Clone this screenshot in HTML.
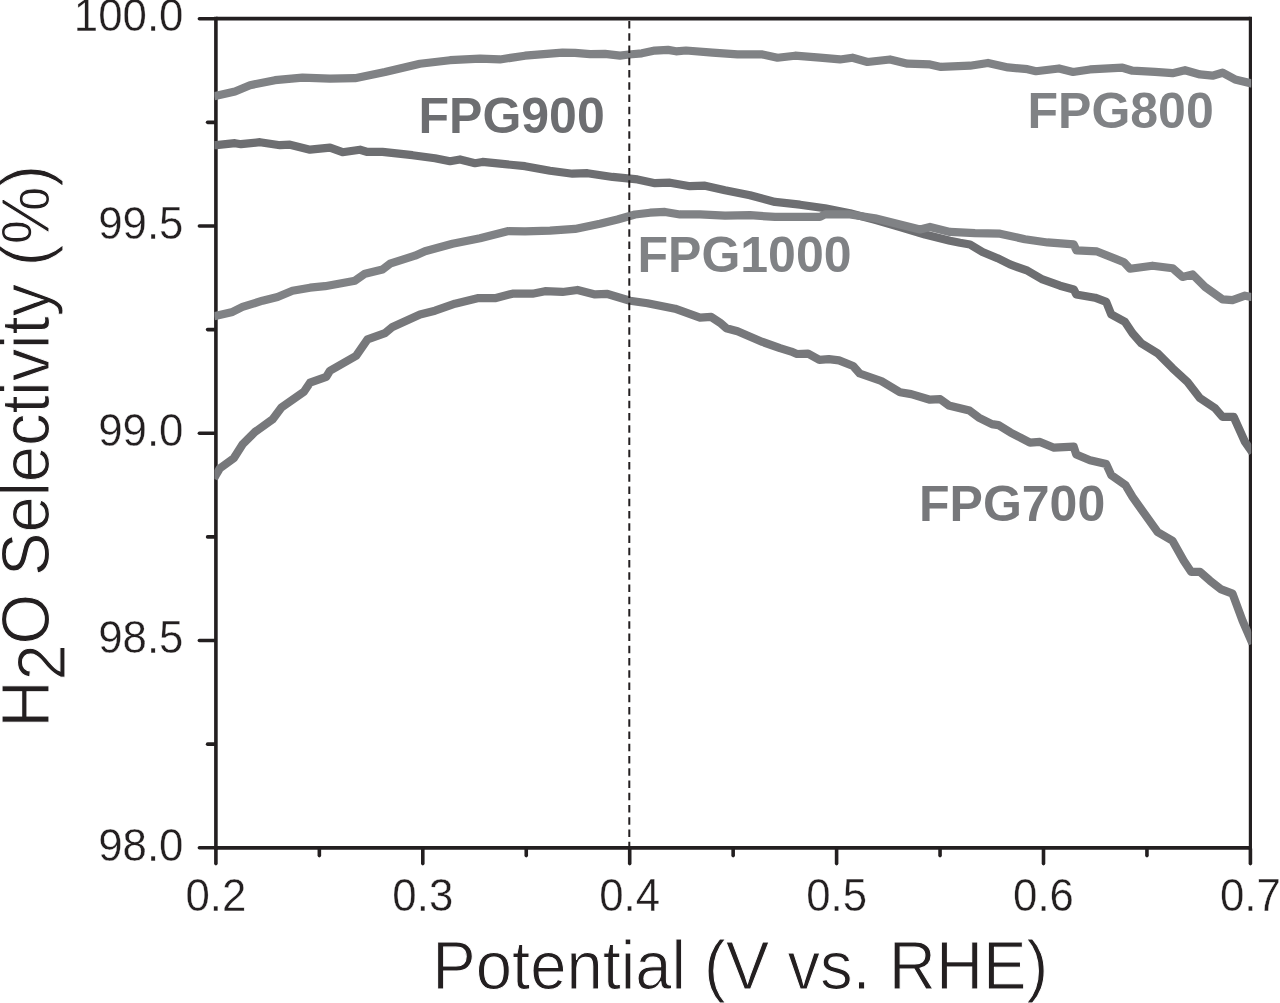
<!DOCTYPE html>
<html lang="en">
<head>
<meta charset="utf-8">
<title>H2O Selectivity vs Potential</title>
<style>
html,body{margin:0;padding:0;background:#fff;}
body{width:1280px;height:1003px;overflow:hidden;}
svg{display:block;}
text{font-family:"Liberation Sans",Arial,Helvetica,sans-serif;}
.tick{font-size:43.8px;fill:#231f20;stroke:#fff;stroke-width:0.35px;}
.title{font-size:65.2px;fill:#231f20;stroke:#fff;stroke-width:1px;}
.lab{font-size:50px;font-weight:bold;}
.ax{stroke:#231f20;stroke-width:3.6;fill:none;stroke-linecap:round;}
.cv{fill:none;stroke-width:8.2;stroke-linejoin:round;stroke-linecap:butt;}
</style>
</head>
<body>
<svg width="1280" height="1003" viewBox="0 0 1280 1003">
<rect x="0" y="0" width="1280" height="1003" fill="#ffffff"/>
<defs><clipPath id="clip"><rect x="214.4" y="18.7" width="1036.9" height="829.0999999999999"/></clipPath></defs>

<line x1="215.9" y1="16.849999999999998" x2="215.9" y2="849.6999999999999" stroke="#231f20" stroke-width="3.6"/>
<line x1="1250.4" y1="16.849999999999998" x2="1250.4" y2="849.6999999999999" stroke="#231f20" stroke-width="3.2"/>
<line x1="215.9" y1="18.7" x2="1250.4" y2="18.7" stroke="#231f20" stroke-width="3.7"/>
<line x1="215.9" y1="847.8" x2="1250.4" y2="847.8" stroke="#231f20" stroke-width="3.8"/>
<line class="ax" x1="199.4" y1="18.70" x2="214.9" y2="18.70"/>
<line class="ax" x1="207.6" y1="122.34" x2="214.9" y2="122.34"/>
<line class="ax" x1="199.4" y1="225.97" x2="214.9" y2="225.97"/>
<line class="ax" x1="207.6" y1="329.61" x2="214.9" y2="329.61"/>
<line class="ax" x1="199.4" y1="433.25" x2="214.9" y2="433.25"/>
<line class="ax" x1="207.6" y1="536.89" x2="214.9" y2="536.89"/>
<line class="ax" x1="199.4" y1="640.52" x2="214.9" y2="640.52"/>
<line class="ax" x1="207.6" y1="744.16" x2="214.9" y2="744.16"/>
<line class="ax" x1="199.4" y1="847.80" x2="214.9" y2="847.80"/>
<line class="ax" x1="215.90" y1="848.8" x2="215.90" y2="863.6"/>
<line class="ax" x1="319.35" y1="848.8" x2="319.35" y2="855.6"/>
<line class="ax" x1="422.80" y1="848.8" x2="422.80" y2="863.6"/>
<line class="ax" x1="526.25" y1="848.8" x2="526.25" y2="855.6"/>
<line class="ax" x1="629.70" y1="848.8" x2="629.70" y2="863.6"/>
<line class="ax" x1="733.15" y1="848.8" x2="733.15" y2="855.6"/>
<line class="ax" x1="836.60" y1="848.8" x2="836.60" y2="863.6"/>
<line class="ax" x1="940.05" y1="848.8" x2="940.05" y2="855.6"/>
<line class="ax" x1="1043.50" y1="848.8" x2="1043.50" y2="863.6"/>
<line class="ax" x1="1146.95" y1="848.8" x2="1146.95" y2="855.6"/>
<line class="ax" x1="1250.40" y1="848.8" x2="1250.40" y2="863.6"/>
<g clip-path="url(#clip)">
<path class="cv" stroke="#77787b" d="M214 478.7 L216.25 474.45 L220 468.2 L233.75 458.2 L242.5 444.45 L255 431.95 L272.5 419.45 L281.25 407.7 L303.75 391.95 L310 382.7 L326.25 376.95 L330 370.7 L356.25 355.7 L367.5 339.45 L385 333.2 L392.5 326.95 L420 314.45 L435 310.7 L455 303.7 L477.5 298.2 L495 298.2 L512.5 293.7 L532.5 293.7 L545 291.2 L562.5 291.95 L577.5 289.95 L595 294.45 L607.5 293.95 L630 300.7 L647.5 303.2 L675 308.7 L700 317.7 L711.25 316.95 L720 322.7 L726.25 328.2 L737.5 331.2 L762.5 341.95 L780 348.2 L791.25 351.6 L796.9 354 L808.1 353.7 L819.4 359.8 L828.75 359.1 L839 360.4 L853.1 366 L859.7 373.5 L881.25 381 L900 392.3 L911.25 394.1 L930 399.7 L940.3 399.2 L948.75 405.4 L969.4 410.45 L978.75 417.6 L991.9 424.1 L998.4 425.1 L1010.6 432.6 L1020 437.3 L1030 442.7 L1040 441.95 L1054 447.7 L1073.75 446.7 L1076.25 454.45 L1090 460.2 L1106.25 464.1 L1111.25 475.1 L1125.5 485.2 L1132.5 496.95 L1157.5 531.95 L1172.5 540.7 L1183.75 560.7 L1191.25 571.95 L1200 571.95 L1210 580.7 L1221.25 589.45 L1232.5 593.7 L1242.5 620.7 L1252.5 643.7"/>
<path class="cv" stroke="#6d6e71" d="M214 145.2 L216.25 145.2 L235 143.2 L241 144.2 L260 142.2 L280 145.2 L290 144.7 L310 149.7 L330 147.7 L342.5 152.2 L360 149.7 L367.5 151.95 L382.5 151.95 L412.5 155.2 L435 158.2 L450 161.2 L460 159.45 L475 163.2 L482.5 161.95 L500 163.7 L525 166.2 L550 170.7 L572.5 173.7 L587.5 173.2 L612.5 176.95 L637.5 179.45 L655 183.2 L670 182.7 L690 186.2 L705 185.7 L725 190.2 L750 195.2 L775 201.95 L800 204.7 L825 208.2 L850 213.2 L875 219.9 L900 227 L925 234.5 L950 240.7 L960 242.7 L970 244.45 L982.5 251.95 L997.5 258.2 L1010 264.45 L1027.5 270.7 L1042.5 279.45 L1060 285.7 L1073.75 289.45 L1076.25 294.45 L1095 297.7 L1106.25 301.95 L1111.25 314.45 L1125 321.95 L1132.5 333.2 L1141.25 343.2 L1157.5 353.2 L1172.5 368.2 L1187.5 381.95 L1200 398.2 L1215 408.2 L1222.5 416.95 L1233.75 416.95 L1245 441.95 L1252.5 452.7"/>
<path class="cv" stroke="#808285" d="M214 316.2 L216.25 315.7 L232.5 311.95 L242.5 306.95 L262.5 300.7 L277.5 296.95 L292.5 290.7 L310 287.7 L325 286.2 L355 280.7 L365 273.7 L382.5 269.45 L390 263.7 L415 255.7 L425 251.2 L452.5 243.7 L480 238.2 L507.5 231.2 L525 231.45 L550 230.7 L575 228.95 L600 223.7 L617.5 219.45 L635 214.45 L650 212.7 L665 211.95 L680 214.45 L700 214.45 L725 215.7 L750 215.2 L775 216.95 L800 216.95 L820 216.95 L825 214.45 L850 214.45 L875 218.2 L900 224.45 L920 229.45 L930 226.95 L950 231.95 L975 233.2 L1000 233.7 L1025 239.2 L1047.5 242.45 L1073.75 244.45 L1076.5 250.45 L1097 251.45 L1124 262.2 L1130 268.7 L1152.5 265.7 L1172.5 268.2 L1182.5 276.95 L1192.5 274.45 L1205 286.95 L1222.5 299.45 L1232.5 300.2 L1245 295.7 L1252.5 297.2"/>
<path class="cv" stroke="#808285" d="M214 96.2 L216.25 95.7 L235 91.45 L250 85.2 L275 80.2 L302.5 77.7 L330 78.7 L355 78.2 L385 71.95 L420 63.7 L450 60.2 L480 58.7 L500 59.45 L525 55.7 L562.5 52.6 L575 52.9 L590 54.2 L605 53.9 L620 55.6 L629 54.5 L641.8 53.3 L654.8 50.6 L668 49.9 L676 51.3 L686 50.5 L712.5 52.7 L737.5 54.45 L762.5 54.45 L777.5 57.7 L795 55.7 L820 57.7 L840 59.45 L852.5 57.7 L867.5 61.95 L890 59.45 L907.5 63.7 L930 64.45 L941 66.95 L970 65.7 L988 62.95 L1008 67.45 L1027.5 69.2 L1036 71.2 L1059 68.45 L1073 71.95 L1090 69.45 L1122.5 67.7 L1132.5 70.7 L1155 71.95 L1172.5 73.2 L1185 70.2 L1200 74.45 L1212.5 75.7 L1222.5 72.7 L1235 79.45 L1252.5 83.7"/>
</g>
<line x1="629.3" y1="21" x2="629.3" y2="847.8" stroke="#231f20" stroke-width="2" stroke-dasharray="7.4 4.85"/>
<text class="tick" transform="translate(183.4 31.40) scale(1 1.05)" text-anchor="end">100.0</text>
<text class="tick" transform="translate(183.4 238.67) scale(1 1.05)" text-anchor="end">99.5</text>
<text class="tick" transform="translate(183.4 445.95) scale(1 1.05)" text-anchor="end">99.0</text>
<text class="tick" transform="translate(183.4 653.22) scale(1 1.05)" text-anchor="end">98.5</text>
<text class="tick" transform="translate(183.4 860.50) scale(1 1.05)" text-anchor="end">98.0</text>
<text class="tick" transform="translate(215.90 911.2) scale(1 1.05)" text-anchor="middle">0.2</text>
<text class="tick" transform="translate(422.80 911.2) scale(1 1.05)" text-anchor="middle">0.3</text>
<text class="tick" transform="translate(629.70 911.2) scale(1 1.05)" text-anchor="middle">0.4</text>
<text class="tick" transform="translate(836.60 911.2) scale(1 1.05)" text-anchor="middle">0.5</text>
<text class="tick" transform="translate(1043.50 911.2) scale(1 1.05)" text-anchor="middle">0.6</text>
<text class="tick" transform="translate(1250.40 911.2) scale(1 1.05)" text-anchor="middle">0.7</text>
<text class="title" transform="translate(432.3 988.8) scale(1 1.06)">Potential (V vs. RHE)</text>
<text class="title" transform="translate(48.5 727.5) rotate(-90) scale(1 1.06)" style="letter-spacing:-0.15px">H<tspan dy="15.2">2</tspan><tspan dy="-15.2">O Selectivity (%)</tspan></text>
<text class="lab" x="418.5" y="132.5" fill="#6d6e71">FPG900</text>
<text class="lab" x="1027.5" y="127.5" fill="#808285">FPG800</text>
<text class="lab" x="637.5" y="271.6" fill="#808285">FPG1000</text>
<text class="lab" x="919" y="521" fill="#77787b">FPG700</text>
</svg>
</body>
</html>
